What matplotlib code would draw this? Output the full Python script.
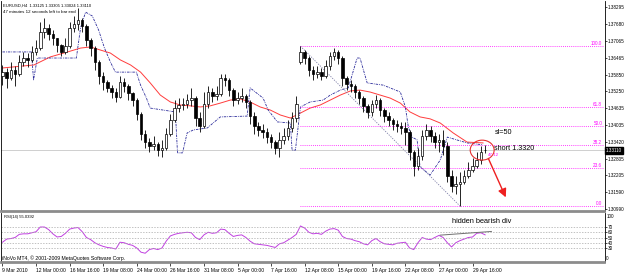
import matplotlib
matplotlib.use('Agg')
import matplotlib.pyplot as plt
from matplotlib.patches import Ellipse

# ---- data (one bar = two H4 candles) ----
opens = [1.3580, 1.3594, 1.3573, 1.3602, 1.3587, 1.3631, 1.3645, 1.3638, 1.3667, 1.3681,
         1.3739, 1.3754, 1.3732, 1.3717, 1.3692, 1.3667, 1.3688, 1.3754, 1.3768, 1.3782,
         1.3761, 1.3710, 1.3681, 1.3631, 1.3580, 1.3558, 1.3537, 1.3522, 1.3504, 1.3558,
         1.3544, 1.3518, 1.3493, 1.3443, 1.3370, 1.3341, 1.3327, 1.3334, 1.3312, 1.3320,
         1.3370, 1.3421, 1.3464, 1.3475, 1.3479, 1.3493, 1.3500, 1.3428, 1.3399, 1.3479,
         1.3522, 1.3508, 1.3515, 1.3573, 1.3566, 1.3529, 1.3493, 1.3500, 1.3508, 1.3486,
         1.3435, 1.3399, 1.3385, 1.3378, 1.3359, 1.3341, 1.3320, 1.3349, 1.3363, 1.3392,
         1.3428, 1.3631, 1.3667, 1.3645, 1.3602, 1.3587, 1.3594, 1.3580, 1.3616, 1.3652,
         1.3667, 1.3645, 1.3573, 1.3551, 1.3544, 1.3522, 1.3500, 1.3472, 1.3450, 1.3479,
         1.3493, 1.3457, 1.3435, 1.3421, 1.3406, 1.3399, 1.3392, 1.3378, 1.3305, 1.3255,
         1.3291, 1.3363, 1.3385, 1.3363, 1.3341, 1.3349, 1.3327, 1.3218, 1.3182, 1.3190,
         1.3197, 1.3218, 1.3240, 1.3255, 1.3276, 1.33125]
highs = [1.3620, 1.3609, 1.3631, 1.3616, 1.3656, 1.3667, 1.3663, 1.3688, 1.3710, 1.3775,
         1.3790, 1.3768, 1.3746, 1.3717, 1.3696, 1.3717, 1.3775, 1.3797, 1.3826, 1.3790,
         1.3768, 1.3717, 1.3688, 1.3638, 1.3594, 1.3566, 1.3547, 1.3537, 1.3580, 1.3573,
         1.3551, 1.3522, 1.3500, 1.3450, 1.3385, 1.3356, 1.3363, 1.3341, 1.3349, 1.3392,
         1.3443, 1.3493, 1.3500, 1.3500, 1.3515, 1.3537, 1.3508, 1.3450, 1.3522, 1.3544,
         1.3537, 1.3544, 1.3587, 1.3587, 1.3573, 1.3537, 1.3522, 1.3537, 1.3515, 1.3493,
         1.3450, 1.3414, 1.3406, 1.3392, 1.3370, 1.3349, 1.3378, 1.3392, 1.3421, 1.3450,
         1.3508, 1.3688, 1.3674, 1.3652, 1.3616, 1.3616, 1.3609, 1.3638, 1.3667, 1.3681,
         1.3674, 1.3652, 1.3580, 1.3566, 1.3551, 1.3529, 1.3508, 1.3479, 1.3493, 1.3511,
         1.3500, 1.3464, 1.3450, 1.3428, 1.3421, 1.3414, 1.3414, 1.3385, 1.3312, 1.3320,
         1.3385, 1.3406, 1.3399, 1.3378, 1.3370, 1.3385, 1.3341, 1.3240, 1.3218, 1.3233,
         1.3240, 1.3269, 1.3284, 1.3305, 1.3327, 1.33305]
lows = [1.3547, 1.3537, 1.3566, 1.3544, 1.3580, 1.3616, 1.3613, 1.3631, 1.3656, 1.3674,
        1.3717, 1.3710, 1.3692, 1.3667, 1.3652, 1.3660, 1.3681, 1.3739, 1.3746, 1.3739,
        1.3688, 1.3652, 1.3602, 1.3551, 1.3529, 1.3522, 1.3500, 1.3486, 1.3500, 1.3522,
        1.3493, 1.3472, 1.3421, 1.3349, 1.3320, 1.3305, 1.3312, 1.3291, 1.3287, 1.3312,
        1.3363, 1.3414, 1.3450, 1.3457, 1.3464, 1.3472, 1.3399, 1.3378, 1.3392, 1.3464,
        1.3486, 1.3493, 1.3508, 1.3544, 1.3508, 1.3472, 1.3479, 1.3486, 1.3464, 1.3406,
        1.3370, 1.3363, 1.3356, 1.3338, 1.3320, 1.3298, 1.3287, 1.3334, 1.3349, 1.3378,
        1.3414, 1.3623, 1.3623, 1.3580, 1.3566, 1.3573, 1.3566, 1.3573, 1.3602, 1.3638,
        1.3623, 1.3544, 1.3529, 1.3522, 1.3500, 1.3479, 1.3450, 1.3428, 1.3435, 1.3464,
        1.3435, 1.3414, 1.3399, 1.3385, 1.3378, 1.3370, 1.3331, 1.3276, 1.3218, 1.3240,
        1.3276, 1.3349, 1.3341, 1.3320, 1.3305, 1.3294, 1.3197, 1.3161, 1.3153, 1.3110,
        1.3190, 1.3211, 1.3233, 1.3247, 1.3262, 1.33024]
closes = [1.3594, 1.3573, 1.3602, 1.3587, 1.3631, 1.3645, 1.3638, 1.3667, 1.3681, 1.3739,
          1.3754, 1.3732, 1.3717, 1.3692, 1.3667, 1.3688, 1.3754, 1.3768, 1.3782, 1.3761,
          1.3710, 1.3681, 1.3631, 1.3580, 1.3558, 1.3537, 1.3522, 1.3504, 1.3558, 1.3544,
          1.3518, 1.3493, 1.3443, 1.3370, 1.3341, 1.3327, 1.3334, 1.3312, 1.3320, 1.3370,
          1.3421, 1.3464, 1.3475, 1.3479, 1.3493, 1.3500, 1.3428, 1.3399, 1.3479, 1.3522,
          1.3508, 1.3515, 1.3573, 1.3566, 1.3529, 1.3493, 1.3500, 1.3508, 1.3486, 1.3435,
          1.3399, 1.3385, 1.3378, 1.3359, 1.3341, 1.3320, 1.3349, 1.3363, 1.3392, 1.3428,
          1.3479, 1.3667, 1.3645, 1.3602, 1.3587, 1.3594, 1.3580, 1.3616, 1.3652, 1.3667,
          1.3645, 1.3573, 1.3551, 1.3544, 1.3522, 1.3500, 1.3472, 1.3450, 1.3479, 1.3493,
          1.3457, 1.3435, 1.3421, 1.3406, 1.3399, 1.3392, 1.3378, 1.3305, 1.3255, 1.3291,
          1.3363, 1.3385, 1.3363, 1.3341, 1.3349, 1.3327, 1.3218, 1.3182, 1.3190, 1.3197,
          1.3218, 1.3240, 1.3255, 1.3276, 1.3305, 1.33110]

rsi = [41, 47, 48, 50, 56, 57, 57, 59, 61, 70, 70, 65, 57, 51, 52, 58, 66, 68, 69, 61,
       50, 46, 40, 36, 33, 31, 30, 28, 41, 40, 37, 35, 30, 22, 20, 27, 29, 27, 30, 43,
       53, 56, 58, 59, 60, 59, 50, 46, 55, 60, 58, 59, 66, 65, 58, 52, 54, 55, 50, 43,
       38, 37, 36, 35, 33, 31, 38, 40, 45, 50, 56, 72, 68, 60, 57, 58, 56, 62, 66, 67,
       64, 52, 48, 47, 44, 42, 38, 36, 44, 48, 42, 38, 37, 36, 39, 40, 41, 30, 27, 40,
       50, 47, 46, 50, 54, 50, 40, 32, 40, 44, 47, 50, 51, 58, 59, 55.0392]

ma_bar = [0, 7.5, 11.4, 15.5, 18.6, 21, 23.3, 25.7, 28.1, 30.5, 32.9, 35.2, 37.6, 40,
          42.4, 44.8, 47.1, 49.5, 51.9, 54.3, 56.7, 59, 61.4, 63.8, 66.2, 68.6, 71, 73.3,
          75.7, 78.1, 80.5, 82.9, 85.2, 87.6, 90, 92.4, 94.8, 97.1, 99.5, 101.9, 104.3,
          107.4, 110.7, 114.5]
ma_val = [1.3609, 1.3620, 1.3649, 1.3667, 1.3681, 1.3685, 1.3674, 1.3663, 1.3638, 1.3620,
          1.3594, 1.3555, 1.3511, 1.3486, 1.3475, 1.3472, 1.3468, 1.3472, 1.3482, 1.3493,
          1.3497, 1.3486, 1.3468, 1.3457, 1.3439, 1.3428, 1.3446, 1.3464, 1.3475, 1.3493,
          1.3511, 1.3526, 1.3529, 1.3522, 1.3511, 1.3500, 1.3482, 1.3450, 1.3432, 1.3425,
          1.3410, 1.3374, 1.3341, 1.3338]

stop_bar = [0, 6.9, 7.4, 8.3, 17.6, 18.6, 19.8, 21.4, 22.9, 24.3, 25.7, 26.9, 31.9, 32.9,
            34.3, 35.2, 41.2, 41.7, 42.9, 44, 45.5, 48.8, 51.9, 58.3, 59, 62.1, 63.3, 65.5,
            68.6, 69, 69.8, 71, 73.3, 76.4, 78.1, 80.5, 82.4, 84.5, 85.2, 86, 86.9, 90.7,
            94.8, 96, 96.7, 97.6, 98.8, 99.5, 101.9, 104.3, 106, 110.7, 114.5]
stop_val = [1.3667, 1.3667, 1.3566, 1.3645, 1.3645, 1.3754, 1.3811, 1.3797, 1.3746, 1.3681,
            1.3631, 1.3594, 1.3594, 1.3547, 1.3500, 1.3464, 1.3450, 1.3302, 1.3302, 1.3374,
            1.3385, 1.3392, 1.3432, 1.3435, 1.3537, 1.3500, 1.3457, 1.3414, 1.3410, 1.3312,
            1.3312, 1.3468, 1.3486, 1.3493, 1.3511, 1.3529, 1.3537, 1.3645, 1.3645, 1.3602,
            1.3555, 1.3547, 1.3522, 1.3468, 1.3396, 1.3359, 1.3349, 1.3251, 1.3222, 1.3276,
            1.3359, 1.3338, 1.3331]

fib_high, fib_low = 1.3688, 1.3110
fib_high_bar, fib_low_bar = 71, 109
fib_levels = [100.0, 61.8, 50.0, 38.2, 23.6, 0.0]

price_ticks = [1.38295, 1.37680, 1.37065, 1.36465, 1.35850, 1.35250, 1.34635, 1.34035,
               1.33420, 1.32805, 1.32205, 1.31590, 1.30990]
last_price = 1.33110
rsi_levels = [30, 40, 50, 60, 70]

date_ticks = [0, 8, 16, 24, 32, 40, 48, 56, 64, 72, 80, 88, 96, 104, 112]
date_labels = ['9 Mar 2010', '12 Mar 00:00', '16 Mar 16:00', '19 Mar 08:00', '24 Mar 00:00',
               '26 Mar 16:00', '31 Mar 08:00', '5 Apr 00:00', '7 Apr 16:00', '12 Apr 08:00',
               '15 Apr 00:00', '19 Apr 16:00', '22 Apr 08:00', '27 Apr 00:00', '29 Apr 16:00']

# ---- figure layout (pixels of a 625x275 canvas) ----
W, H = 625, 275
fig = plt.figure(figsize=(6.25, 2.75), dpi=100)
fig.patch.set_facecolor('white')
plt.rcParams['font.family'] = ['Liberation Sans', 'DejaVu Sans']

ax = fig.add_axes([0.5 / W, (H - 211) / H, 604 / W, 210 / H])
ax_rsi = fig.add_axes([0.5 / W, (H - 262) / H, 604 / W, 49 / H])

xlim = (-0.476, 143.45)
for a in (ax, ax_rsi):
    a.set_xlim(*xlim)
    a.set_facecolor('white')
    a.yaxis.tick_right()
    a.tick_params(axis='y', direction='out', length=1.5, width=0.5, pad=0.6,
                  labelsize=3.3, colors='black')
    a.spines['top'].set_visible(False)
    a.spines['right'].set_linewidth(0.6)
    a.spines['left'].set_linewidth(0.6)

ax.set_ylim(1.30918, 1.38512)

# candles
n = len(closes)
xs = list(range(n))
ax.vlines(xs, lows, highs, color='black', lw=0.6, zorder=3)
bull = [i for i in xs if closes[i] >= opens[i]]
bear = [i for i in xs if closes[i] < opens[i]]
ax.bar(bull, [max(closes[i] - opens[i], 0.00008) for i in bull],
       bottom=[opens[i] for i in bull], width=0.6, color='white',
       edgecolor='black', lw=0.5, zorder=4)
ax.bar(bear, [opens[i] - closes[i] for i in bear], bottom=[closes[i] for i in bear],
       width=0.6, color='black', edgecolor='black', lw=0.5, zorder=4)

# indicators
ax.plot(ma_bar, ma_val, color='#ff3c3c', lw=0.7, zorder=2)
ax.plot(stop_bar, stop_val, color='#2a2a9a', lw=0.6, ls=(0, (3, 1.2, 1, 1.2)), zorder=2)

# current price line
ax.axhline(last_price, color='#c8c8c8', lw=0.6, zorder=1)

# fibonacci retracement
ax.plot([fib_high_bar, fib_low_bar], [fib_high, fib_low], color='#7f7fa8', lw=0.6,
        ls=(0, (1.5, 1.5)), zorder=2)
for lv in fib_levels:
    p = fib_low + (fib_high - fib_low) * lv / 100
    ax.hlines(p, fib_high_bar, xlim[1], color='#ff00ff', lw=0.6, ls=(0, (1, 1.5)), zorder=2)
    ax.text(142.9, p, f'{lv:.1f}', color='#ff00ff', fontsize=3.3, ha='right', va='bottom')

ax.set_yticks(price_ticks)
ax.set_yticklabels([f'{p:.5f}' for p in price_ticks])
ax.set_xticks([])
ax.text(xlim[1] + 0.35, last_price, f'{last_price:.5f}', color='white', fontsize=3.3,
        va='center', ha='left', bbox=dict(boxstyle='square,pad=0.2', fc='black', ec='black'),
        clip_on=False)

# annotations
ax.add_patch(Ellipse((114.3, 1.3312), 5.7, 0.0072, fill=False, ec='#e83030', lw=0.8, zorder=5))
ax.annotate('', xy=(120.2, 1.3132), xytext=(115.5, 1.3291),
            arrowprops=dict(arrowstyle='-|>,head_length=0.5,head_width=0.25',
                            color='#ee2020', lw=1.0))
ax.text(117.2, 1.3375, 'sl=50', fontsize=5.2, va='center')
ax.text(117.2, 1.3317, 'short 1.3320', fontsize=5.2, va='center')
ax.text(115.6, 1.3296, '47:12', fontsize=3.2, color='#ff00ff', va='center')

ax.text(0.004, 0.988, 'EURUSD,H4  1.33125 1.33305 1.33024 1.33110', transform=ax.transAxes,
        fontsize=3.0, va='top', ha='left')
ax.text(0.004, 0.955, '47 minutes 12 seconds left to bar end', transform=ax.transAxes,
        fontsize=3.2, va='top', ha='left')

ax.spines['bottom'].set_color('#8c8c8c')
ax.spines['bottom'].set_linewidth(2)

# RSI panel
ax_rsi.set_ylim(3.3, 96.7)
ax_rsi.plot(xs, rsi, color='#c040e0', lw=0.7)
for lv in rsi_levels:
    ax_rsi.axhline(lv, color='#a8a8a8', lw=0.5, ls=(0, (2, 2)))
ax_rsi.plot([104.3, 116.5], [54.5, 61.5], color='#707070', lw=0.7)
ax_rsi.text(107.2, 80, 'hidden bearish div', fontsize=5.3, va='center', ha='left')
ax_rsi.set_yticks(rsi_levels)
ax_rsi.set_yticklabels([str(v) for v in rsi_levels])
ax_rsi.text(1.003, 0.93, '100', transform=ax_rsi.transAxes, fontsize=3.3, va='center')
ax_rsi.text(1.003, 0.08, '0', transform=ax_rsi.transAxes, fontsize=3.3, va='center')
ax_rsi.tick_params(axis='y', labelsize=3.3)
ax_rsi.text(0.005, 0.96, 'RSI(14) 55.0392', transform=ax_rsi.transAxes, fontsize=3.0,
            va='top', ha='left')
ax_rsi.text(0.003, 0.08, 'iNoVo MT4, \u00a9 2001-2009 MetaQuotes Software Corp.',
            transform=ax_rsi.transAxes, fontsize=3.7, va='center', ha='left')
ax_rsi.spines['bottom'].set_color('#8c8c8c')
ax_rsi.spines['bottom'].set_linewidth(2)
ax_rsi.set_xticks(date_ticks)
ax_rsi.set_xticklabels(date_labels, ha='left')
ax_rsi.tick_params(axis='x', direction='out', length=3, width=0.5, pad=1.5, labelsize=3.6)

fig.savefig('out.png', dpi=100)
